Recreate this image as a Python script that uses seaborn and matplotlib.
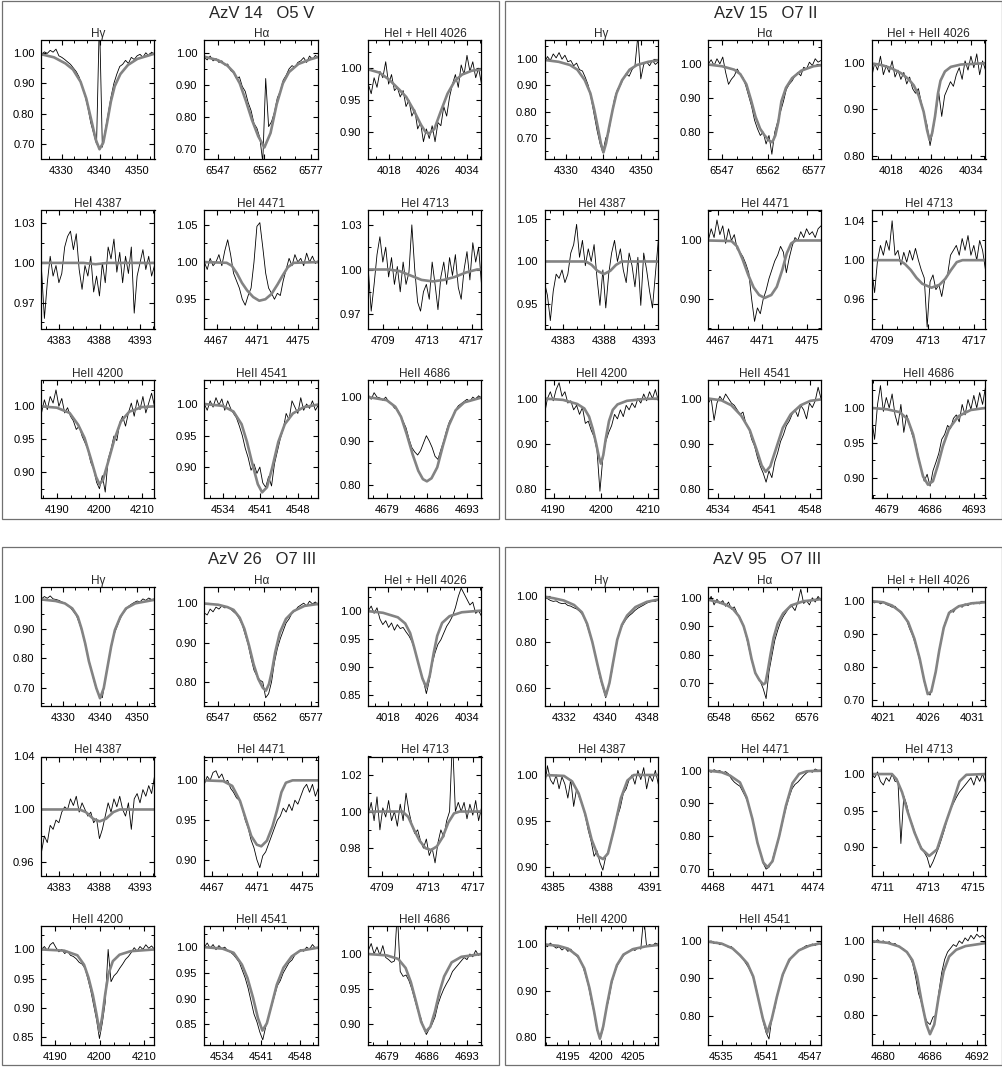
import numpy as np
import matplotlib
matplotlib.use("Agg")
import matplotlib.pyplot as plt
from matplotlib.ticker import AutoMinorLocator, FixedLocator, FormatStrFormatter
from matplotlib.patches import Rectangle
import seaborn as sns

# line titles (same order in every star block)
LINE_TITLES = ["Hγ", "Hα", "HeI + HeII 4026", "HeI 4387", "HeI 4471", "HeI 4713",
               "HeII 4200", "HeII 4541", "HeII 4686"]
STAR_TITLES = ["AzV 14   O5 V", "AzV 15   O7 II", "AzV 26   O7 III", "AzV 95   O7 III"]

XTICKS_STD = [[4330, 4340, 4350], [6547, 6562, 6577], [4018, 4026, 4034],
              [4383, 4388, 4393], [4467, 4471, 4475], [4709, 4713, 4717],
              [4190, 4200, 4210], [4534, 4541, 4548], [4679, 4686, 4693]]
XTICKS_AZV95 = [[4332, 4340, 4348], [6548, 6562, 6576], [4021, 4026, 4031],
                [4385, 4388, 4391], [4468, 4471, 4474], [4711, 4713, 4715],
                [4195, 4200, 4205], [4535, 4541, 4547], [4680, 4686, 4692]]

# ---------------- AzV 14 ----------------
AZV14_XLIM = [(4324.7, 4354.5), (6542.5, 6579.5), (4013.7, 4037), (4380.8, 4394.8),
              (4465.8, 4477.0), (4707.7, 4717.9), (4186.4, 4212.9), (4530.6, 4551.7),
              (4675.8, 4695.5)]
AZV14_YLIM = [(0.651, 1.042), (0.669, 1.04), (0.858, 1.044), (0.95, 1.04), (0.91, 1.07),
              (0.96, 1.04), (0.861, 1.04), (0.851, 1.038), (0.77, 1.039)]
AZV14_YTICKS = [[0.7, 0.8, 0.9, 1.0], [0.7, 0.8, 0.9, 1.0], [0.9, 0.95, 1.0], [0.97, 1.0, 1.03],
                [0.95, 1.0, 1.05], [0.97, 1.0, 1.03], [0.9, 0.95, 1.0], [0.85, 0.9, 0.95, 1.0],
                [0.8, 0.9, 1.0]]

AZV14_HG_OBS = [0.995, 1.003, 0.998, 1.008, 1.002, 1.012, 0.99, 0.985, 0.978, 0.97,
                0.962, 0.95, 0.938, 0.92, 0.89, 0.86, 0.82, 0.77, 0.735, 0.70,
                1.12, 0.69, 0.745, 0.80, 0.855, 0.90, 0.93, 0.955, 0.962, 0.975,
                0.965, 0.985, 0.978, 0.99, 0.995, 0.985, 1.0, 0.99, 1.002, 0.995]
AZV14_HG_MOD = [(4324.7, 0.995), (4328, 0.985), (4331, 0.965), (4333, 0.945), (4335, 0.905),
                (4336.5, 0.85), (4338, 0.77), (4339, 0.715), (4340, 0.683), (4341, 0.705),
                (4342, 0.77), (4343, 0.84), (4344, 0.89), (4345.5, 0.93), (4347.5, 0.96),
                (4350, 0.98), (4354.5, 0.997)]
AZV14_HA_OBS = [0.985, 0.978, 0.99, 0.975, 0.982, 0.97, 0.975, 0.962, 0.965, 0.945,
                0.938, 0.92, 0.925, 0.895, 0.88, 0.845, 0.82, 0.78, 0.765, 0.735,
                0.66, 0.92, 0.77, 0.785, 0.815, 0.86, 0.88, 0.915, 0.93, 0.95,
                0.96, 0.955, 0.97, 0.975, 0.985, 0.97, 0.99, 0.98, 0.992, 0.985]
AZV14_HA_MOD = [(6542.5, 0.988), (6547, 0.977), (6550, 0.96), (6552, 0.94), (6554, 0.905),
                (6556, 0.85), (6558, 0.79), (6560, 0.74), (6562, 0.705), (6564, 0.75),
                (6566, 0.84), (6568, 0.905), (6570, 0.94), (6573, 0.965), (6577, 0.98),
                (6579.5, 0.987)]
AZV14_4026_OBS = [0.975, 0.96, 0.985, 0.97, 0.995, 0.985, 1.01, 0.975, 0.99, 0.965,
                  0.97, 0.955, 0.965, 0.94, 0.95, 0.925, 0.935, 0.905, 0.915, 0.885,
                  0.905, 0.89, 0.91, 0.885, 0.915, 0.91, 0.94, 0.925, 0.955, 0.975,
                  0.99, 0.97, 1.005, 0.99, 1.02, 0.995, 1.01, 0.985, 1.0, 0.975]
AZV14_4026_MOD = [(4013.7, 0.998), (4016, 0.993), (4018, 0.982), (4020, 0.967), (4021.5, 0.955),
                  (4023, 0.935), (4024.5, 0.912), (4025.5, 0.9), (4026.3, 0.898), (4027.3, 0.905),
                  (4028.5, 0.93), (4030, 0.96), (4031.5, 0.98), (4033, 0.99), (4035, 0.996),
                  (4037, 0.998)]
AZV14_4387_OBS = [0.995, 0.958, 0.985, 1.005, 0.99, 0.998, 0.985, 0.992, 1.012, 1.02,
                  1.024, 1.01, 1.022, 0.995, 0.98, 0.998, 0.99, 1.005, 0.978, 0.99,
                  0.975, 1.0, 0.985, 1.012, 1.003, 1.018, 0.993, 1.008, 0.985, 1.005,
                  0.992, 1.012, 0.962, 0.99, 1.0, 1.01, 0.995, 1.005, 0.99, 0.998]
AZV14_4387_MOD = [(4380.8, 1.0), (4386, 1.0), (4387.5, 0.999), (4389, 1.0), (4394.8, 1.0)]
AZV14_4471_OBS = [1.0, 0.99, 1.005, 0.995, 1.0, 1.01, 0.995, 1.015, 1.03, 1.01,
                  0.985, 0.975, 0.965, 0.95, 0.942, 0.955, 0.965, 1.0, 1.048, 1.053,
                  1.02, 0.985, 0.965, 0.958, 0.95, 0.958, 0.955, 0.975, 0.99, 1.005,
                  0.995, 1.01, 1.0, 1.005, 0.995, 1.012, 1.0, 1.008, 0.998, 1.002]
AZV14_4471_MOD = [(4465.8, 1.0), (4468, 0.999), (4468.5, 0.995), (4469, 0.985), (4469.5, 0.972),
                  (4470, 0.962), (4470.6, 0.953), (4471.2, 0.948), (4471.8, 0.95), (4472.4, 0.957),
                  (4473, 0.97), (4473.5, 0.982), (4474, 0.993), (4474.6, 0.999), (4477, 1.0)]
AZV14_4713_OBS = [1.0, 0.972, 0.99, 1.01, 1.022, 1.005, 1.015, 0.995, 1.008, 0.99,
                  1.002, 0.985, 1.005, 0.99, 0.998, 1.03, 1.0, 0.978, 0.972, 0.985,
                  0.99, 0.98, 1.005, 0.99, 0.973, 0.995, 1.005, 0.99, 1.008, 0.996,
                  1.01, 0.988, 0.98, 1.0, 1.012, 0.993, 1.018, 1.005, 1.015, 0.99]
AZV14_4713_MOD = [(4707.7, 1.0), (4709.5, 1.0), (4710.5, 0.999), (4711.5, 0.996), (4712.5, 0.993),
                  (4713.5, 0.992), (4714.5, 0.993), (4715.5, 0.995), (4716.5, 0.998),
                  (4717.5, 1.0), (4717.9, 1.0)]
AZV14_4200_OBS = [0.99, 1.01, 0.995, 1.015, 1.005, 1.025, 1.0, 1.012, 0.99, 0.998,
                  0.985, 0.978, 0.965, 0.97, 0.955, 0.945, 0.935, 0.915, 0.905, 0.885,
                  0.875, 0.895, 0.87, 0.92, 0.935, 0.955, 0.948, 0.975, 0.985, 0.97,
                  0.99, 1.005, 0.985, 1.01, 0.995, 1.015, 0.99, 1.005, 1.02, 1.0]
AZV14_4200_MOD = [(4186.4, 1.0), (4190, 0.998), (4193, 0.99), (4195, 0.972), (4196.5, 0.952),
                  (4198, 0.92), (4199.2, 0.893), (4200, 0.882), (4200.8, 0.888), (4202, 0.915),
                  (4203.5, 0.95), (4205, 0.977), (4207, 0.992), (4210, 0.999), (4212.9, 1.0)]
AZV14_4541_OBS = [1.0, 0.99, 1.005, 0.995, 1.01, 0.998, 1.008, 0.99, 1.005, 0.993,
                  0.985, 0.978, 0.965, 0.95, 0.93, 0.915, 0.895, 0.905, 0.89, 0.9,
                  0.875, 0.868, 0.885, 0.87, 0.905, 0.925, 0.945, 0.96, 0.985, 0.975,
                  1.005, 0.995, 0.985, 1.01, 0.99, 1.0, 0.993, 1.005, 0.99, 0.998]
AZV14_4541_MOD = [(4530.6, 1.0), (4534, 0.997), (4536, 0.988), (4537.5, 0.968), (4538.5, 0.94),
                  (4539.5, 0.905), (4540.5, 0.873), (4541.3, 0.86), (4542.2, 0.868), (4543.2, 0.9),
                  (4544.3, 0.94), (4545.5, 0.968), (4547, 0.985), (4549, 0.995), (4551.7, 0.999)]
AZV14_4686_OBS = [1.005, 0.995, 1.01, 1.0, 0.998, 0.993, 1.0, 0.99, 0.985, 0.975,
                  0.972, 0.96, 0.945, 0.93, 0.905, 0.885, 0.875, 0.868, 0.878, 0.895,
                  0.912, 0.9, 0.885, 0.865, 0.858, 0.88, 0.9, 0.925, 0.945, 0.955,
                  0.97, 0.98, 0.985, 0.99, 0.995, 0.99, 1.0, 0.995, 1.003, 0.998]
AZV14_4686_MOD = [(4675.8, 1.0), (4679, 0.993), (4680.5, 0.978), (4681.5, 0.955), (4682.5, 0.915),
                  (4683.5, 0.87), (4684.5, 0.832), (4685.3, 0.813), (4686, 0.808), (4686.8, 0.815),
                  (4687.8, 0.84), (4688.8, 0.89), (4689.8, 0.935), (4691, 0.97), (4692.5, 0.988),
                  (4695.5, 0.999)]

# ---------------- AzV 15 ----------------
AZV15_XLIM = [(4324.2, 4354.7), (6542.5, 6579.5), (4014, 4037), (4380.7, 4394.7),
              (4466.1, 4476.3), (4708.1, 4718.0), (4188.1, 4212.1), (4532.5, 4549.6),
              (4676.5, 4694.9)]
AZV15_YLIM = [(0.62, 1.073), (0.721, 1.07), (0.793, 1.05), (0.92, 1.061), (0.849, 1.052),
              (0.93, 1.051), (0.78, 1.041), (0.78, 1.041), (0.871, 1.04)]
AZV15_YTICKS = [[0.7, 0.8, 0.9, 1.0], [0.8, 0.9, 1.0], [0.8, 0.9, 1.0], [0.95, 1.0, 1.05],
                [0.9, 1.0], [0.96, 1.0, 1.04], [0.8, 0.9, 1.0], [0.8, 0.9, 1.0],
                [0.9, 0.95, 1.0]]

AZV15_HG_OBS = [0.985, 1.01, 0.995, 1.02, 1.005, 1.025, 1.0, 1.015, 0.99, 0.995,
                0.975, 0.985, 0.96, 0.955, 0.93, 0.9, 0.85, 0.79, 0.73, 0.68,
                0.645, 0.7, 0.72, 0.79, 0.85, 0.885, 0.9, 0.925, 0.945, 0.935,
                0.96, 0.975, 1.09, 0.925, 0.98, 0.99, 0.975, 0.995, 0.98, 0.99]
AZV15_HG_MOD = [(4324.2, 0.997), (4328, 0.99), (4331, 0.978), (4333, 0.96), (4335, 0.92),
                (4336.5, 0.87), (4337.5, 0.81), (4338.5, 0.74), (4339.3, 0.68), (4340, 0.645),
                (4340.7, 0.68), (4341.5, 0.74), (4342.5, 0.81), (4343.5, 0.87), (4345, 0.92),
                (4347, 0.96), (4349, 0.978), (4352, 0.99), (4354.7, 0.996)]
AZV15_HA_OBS = [1.0, 1.012, 0.995, 1.015, 1.0, 1.02, 0.975, 0.94, 0.955, 0.965,
                0.985, 0.97, 0.96, 0.935, 0.905, 0.875, 0.835, 0.81, 0.79, 0.8,
                0.765, 0.79, 0.735, 0.8, 0.83, 0.86, 0.89, 0.925, 0.94, 0.95,
                0.965, 0.975, 0.965, 0.99, 0.985, 1.005, 0.995, 1.015, 1.005, 1.01]
AZV15_HA_MOD = [(6542.5, 0.998), (6547, 0.993), (6551, 0.983), (6553, 0.97), (6555, 0.94),
                (6556.5, 0.895), (6558, 0.845), (6559.5, 0.81), (6561, 0.79), (6562.5, 0.775),
                (6563.5, 0.77), (6564.5, 0.79), (6565.5, 0.83), (6566.5, 0.89), (6568, 0.93),
                (6570, 0.958), (6573, 0.98), (6577, 0.993), (6579.5, 0.996)]
AZV15_4026_OBS = [0.97, 1.0, 0.985, 1.015, 0.975, 0.995, 0.98, 1.005, 0.97, 0.985,
                  0.965, 0.98, 0.955, 0.97, 0.945, 0.935, 0.945, 0.915, 0.89, 0.865,
                  0.822, 0.855, 0.895, 0.935, 0.885, 0.93, 0.945, 0.96, 0.95, 0.975,
                  0.99, 0.965, 1.005, 0.985, 1.015, 0.99, 1.02, 0.975, 1.005, 0.985]
AZV15_4026_MOD = [(4014, 0.999), (4016, 0.996), (4018, 0.989), (4020, 0.978), (4021.5, 0.965),
                  (4022.5, 0.952), (4023.5, 0.93), (4024.5, 0.895), (4025.2, 0.855),
                  (4025.7, 0.834), (4026.2, 0.848), (4026.8, 0.885), (4027.4, 0.935),
                  (4027.9, 0.962), (4028.8, 0.982), (4030, 0.992), (4032, 0.997), (4037, 1.0)]
AZV15_4387_OBS = [0.975, 0.96, 0.93, 0.965, 0.985, 0.98, 0.99, 0.975, 0.985, 1.01,
                  1.02, 1.044, 1.005, 1.025, 0.995, 1.015, 1.0, 1.02, 0.98, 0.948,
                  0.99, 0.945, 0.985, 1.01, 1.025, 1.0, 1.015, 0.99, 0.975, 1.01,
                  0.995, 0.97, 1.005, 0.948, 1.01, 0.99, 0.965, 0.945, 0.985, 1.025]
AZV15_4387_MOD = [(4380.7, 1.0), (4385.8, 1.0), (4386.5, 0.996), (4387.2, 0.989), (4388, 0.985),
                  (4388.8, 0.989), (4389.5, 0.996), (4390.2, 1.0), (4394.7, 1.0)]
AZV15_4471_OBS = [1.0, 1.02, 1.005, 1.035, 1.01, 1.025, 0.995, 1.02, 1.0, 1.01,
                  0.985, 0.98, 0.972, 0.96, 0.945, 0.9, 0.862, 0.885, 0.875, 0.9,
                  0.915, 0.935, 0.95, 0.965, 0.975, 0.99, 0.98, 0.945, 0.97, 0.99,
                  1.005, 1.0, 1.015, 1.005, 1.02, 1.01, 1.015, 1.005, 1.02, 1.025]
AZV15_4471_MOD = [(4466.1, 1.0), (4468.2, 0.999), (4468.7, 0.99), (4469.2, 0.968), (4469.7, 0.942),
                  (4470.2, 0.92), (4470.7, 0.907), (4471.2, 0.902), (4471.8, 0.907), (4472.3, 0.921),
                  (4472.8, 0.95), (4473.2, 0.978), (4473.6, 0.995), (4474, 1.0), (4476.3, 1.0)]
AZV15_4713_OBS = [0.99, 0.967, 1.0, 1.015, 1.005, 1.02, 1.01, 1.04, 1.005, 1.01,
                  0.995, 1.008, 0.998, 1.01, 1.0, 1.012, 1.0, 0.99, 0.982, 0.932,
                  0.978, 0.985, 0.97, 0.975, 0.963, 0.98, 0.985, 1.005, 1.01, 1.015,
                  1.005, 1.022, 1.01, 1.025, 1.005, 1.015, 1.0, 1.02, 1.01, 0.99]
AZV15_4713_MOD = [(4708.1, 1.0), (4710.5, 1.0), (4711, 0.996), (4711.5, 0.99), (4712, 0.982),
                  (4712.5, 0.976), (4713.3, 0.972), (4714, 0.975), (4714.5, 0.981), (4715, 0.99),
                  (4715.5, 0.998), (4716, 1.0), (4718, 1.0)]
AZV15_4200_OBS = [0.965, 1.0, 1.015, 0.995, 1.02, 1.035, 1.005, 1.015, 0.99, 0.995,
                  0.975, 0.985, 0.965, 0.98, 0.945, 0.95, 0.93, 0.915, 0.885, 0.795,
                  0.87, 0.905, 0.925, 0.94, 0.965, 0.955, 0.975, 0.96, 0.985, 0.975,
                  0.99, 0.98, 1.0, 0.99, 1.01, 0.995, 1.015, 1.0, 1.02, 0.995]
AZV15_4200_MOD = [(4188.1, 1.0), (4192, 0.997), (4195, 0.988), (4196.5, 0.978), (4197.5, 0.96),
                  (4198.3, 0.932), (4199, 0.9), (4199.6, 0.87), (4200, 0.856), (4200.5, 0.875),
                  (4201, 0.91), (4201.7, 0.95), (4202.5, 0.975), (4203.5, 0.987), (4205.5, 0.995),
                  (4209, 0.999), (4212.1, 1.0)]
AZV15_4541_OBS = [0.99, 1.0, 0.952, 0.99, 1.005, 0.995, 1.01, 1.0, 0.99, 0.985,
                  0.975, 0.965, 0.97, 0.945, 0.935, 0.91, 0.895, 0.87, 0.85, 0.835,
                  0.815, 0.84, 0.825, 0.86, 0.88, 0.905, 0.92, 0.94, 0.95, 0.965,
                  0.975, 0.96, 0.985, 0.975, 0.955, 0.99, 0.98, 0.995, 1.025, 1.0]
AZV15_4541_MOD = [(4532.5, 1.0), (4534.5, 0.996), (4536, 0.985), (4537.5, 0.962), (4538.8, 0.93),
                  (4539.8, 0.888), (4540.6, 0.852), (4541.2, 0.838), (4541.9, 0.85), (4542.8, 0.89),
                  (4543.8, 0.935), (4545, 0.965), (4546.5, 0.985), (4548, 0.995), (4549.6, 0.998)]
AZV15_4686_OBS = [0.985, 0.955, 1.005, 1.032, 0.995, 1.015, 1.0, 1.02, 0.99, 0.975,
                  1.005, 0.965, 0.99, 0.975, 0.96, 0.95, 0.93, 0.912, 0.895, 0.905,
                  0.888, 0.91, 0.922, 0.935, 0.955, 0.962, 0.975, 0.97, 0.985, 0.99,
                  0.98, 1.005, 0.99, 1.012, 0.998, 1.018, 1.0, 1.022, 1.005, 1.03]
AZV15_4686_MOD = [(4676.5, 1.0), (4679, 0.998), (4681, 0.994), (4682.3, 0.984), (4683.2, 0.962),
                  (4684, 0.93), (4684.8, 0.902), (4685.6, 0.89), (4686.4, 0.895), (4687.2, 0.918),
                  (4688, 0.945), (4689, 0.97), (4690.5, 0.988), (4692.5, 0.997), (4694.9, 1.0)]

# ---------------- AzV 26 ----------------
AZV26_XLIM = [(4324.2, 4354.7), (6542.5, 6579.5), (4014, 4037), (4380.8, 4394.8),
              (4466.3, 4476.5), (4707.8, 4717.7), (4186.9, 4212.4), (4530.7, 4551.3),
              (4675.8, 4695.5)]
AZV26_YLIM = [(0.64, 1.04), (0.739, 1.041), (0.83, 1.042), (0.95, 1.04), (0.88, 1.03),
              (0.965, 1.03), (0.837, 1.04), (0.81, 1.041), (0.87, 1.04)]
AZV26_YTICKS = [[0.7, 0.8, 0.9, 1.0], [0.8, 0.9, 1.0], [0.85, 0.9, 0.95, 1.0], [0.96, 1.0, 1.04],
                [0.9, 0.95, 1.0], [0.98, 1.0, 1.02], [0.85, 0.9, 0.95, 1.0],
                [0.85, 0.9, 0.95, 1.0], [0.9, 0.95, 1.0]]

AZV26_HG_OBS = [1.0, 1.008, 1.002, 1.01, 1.0, 0.998, 0.995, 0.99, 0.985, 0.978,
                0.97, 0.958, 0.945, 0.92, 0.89, 0.85, 0.805, 0.77, 0.728, 0.695,
                0.675, 0.668, 0.73, 0.785, 0.835, 0.88, 0.905, 0.93, 0.95, 0.962,
                0.975, 0.982, 0.988, 0.993, 0.99, 1.0, 0.995, 1.003, 0.998, 1.0]
AZV26_HG_MOD = [(4324.2, 0.998), (4328, 0.993), (4330.5, 0.985), (4332.5, 0.968), (4334, 0.94),
                (4335, 0.9), (4336, 0.85), (4337, 0.79), (4338, 0.745), (4339, 0.7),
                (4340, 0.666), (4341, 0.7), (4342, 0.77), (4343, 0.84), (4344, 0.895),
                (4345.5, 0.94), (4347, 0.968), (4349.5, 0.985), (4354.7, 0.997)]
AZV26_HA_OBS = [0.975, 0.97, 0.985, 0.978, 0.99, 0.985, 0.993, 0.988, 0.99, 0.985,
                0.978, 0.972, 0.96, 0.945, 0.92, 0.895, 0.86, 0.83, 0.815, 0.805,
                0.8, 0.76, 0.77, 0.8, 0.85, 0.885, 0.91, 0.93, 0.95, 0.96,
                0.975, 0.98, 0.99, 0.995, 1.0, 0.993, 1.005, 0.998, 1.003, 0.995]
AZV26_HA_MOD = [(6542.5, 0.999), (6547, 0.996), (6550, 0.99), (6552, 0.983), (6554, 0.963),
                (6555.5, 0.935), (6557, 0.893), (6558.5, 0.845), (6560, 0.808), (6561.5, 0.785),
                (6562.5, 0.778), (6563.5, 0.795), (6564.5, 0.83), (6565.5, 0.875), (6567, 0.925),
                (6569, 0.96), (6571.5, 0.98), (6575, 0.993), (6579.5, 0.998)]
AZV26_4026_OBS = [1.0, 1.008, 0.995, 1.005, 0.985, 0.975, 0.982, 0.97, 0.978, 0.965,
                  0.975, 0.968, 0.97, 0.962, 0.955, 0.945, 0.93, 0.91, 0.89, 0.875,
                  0.852, 0.875, 0.905, 0.925, 0.94, 0.948, 0.96, 0.972, 0.98, 0.99,
                  1.005, 1.025, 1.04, 1.03, 1.02, 1.01, 1.015, 0.995, 1.0, 0.99]
AZV26_4026_MOD = [(4014, 0.999), (4017, 0.996), (4020, 0.988), (4021.5, 0.977), (4022.5, 0.96),
                  (4023.3, 0.935), (4024.2, 0.905), (4025, 0.879), (4025.8, 0.863), (4026.5, 0.885),
                  (4027.3, 0.925), (4028, 0.955), (4029, 0.978), (4030.5, 0.99), (4033, 0.997),
                  (4037, 1.0)]
AZV26_4387_OBS = [0.968, 0.98, 0.975, 0.988, 0.985, 0.992, 0.99, 0.998, 1.002, 1.0,
                  1.008, 1.003, 1.01, 0.998, 1.005, 1.0, 0.995, 0.998, 0.99, 0.993,
                  0.978, 0.985, 0.995, 1.005, 0.998, 1.008, 1.002, 1.01, 1.0, 0.995,
                  1.005, 0.985, 1.008, 1.012, 1.005, 1.015, 1.01, 1.018, 1.012, 1.025]
AZV26_4387_MOD = [(4380.8, 1.0), (4385.5, 1.0), (4386.3, 0.998), (4387.2, 0.993), (4388, 0.991),
                  (4388.8, 0.993), (4389.7, 0.998), (4390.5, 1.0), (4394.8, 1.0)]
AZV26_4471_OBS = [0.995, 1.005, 1.0, 1.01, 1.012, 1.003, 1.008, 0.998, 1.0, 0.99,
                  0.985, 0.978, 0.975, 0.965, 0.95, 0.94, 0.925, 0.915, 0.9, 0.89,
                  0.905, 0.91, 0.92, 0.93, 0.94, 0.95, 0.955, 0.965, 0.96, 0.97,
                  0.962, 0.975, 0.97, 0.98, 0.99, 0.995, 0.985, 0.995, 0.98, 0.99]
AZV26_4471_MOD = [(4466.3, 1.0), (4468, 0.999), (4468.8, 0.993), (4469.5, 0.974), (4470, 0.952),
                  (4470.5, 0.93), (4471, 0.919), (4471.4, 0.917), (4471.9, 0.924), (4472.4, 0.942),
                  (4472.8, 0.962), (4473.2, 0.985), (4473.6, 0.997), (4474.2, 1.0), (4476.5, 1.0)]
AZV26_4713_OBS = [0.998, 1.005, 0.995, 1.008, 0.99, 1.002, 0.997, 1.006, 0.995, 1.0,
                  0.992, 1.004, 0.995, 1.01, 1.0, 0.993, 0.988, 0.99, 0.984, 0.98,
                  0.985, 0.976, 0.98, 0.972, 0.983, 0.99, 0.986, 0.995, 1.0, 1.04,
                  1.0, 1.005, 1.0, 1.005, 0.996, 1.004, 0.998, 1.006, 0.995, 1.002]
AZV26_4713_MOD = [(4707.8, 1.0), (4710.8, 1.0), (4711.3, 0.997), (4711.8, 0.99), (4712.3, 0.984),
                  (4712.8, 0.98), (4713.3, 0.979), (4713.8, 0.981), (4714.3, 0.986), (4714.8, 0.994),
                  (4715.3, 0.999), (4715.8, 1.0), (4717.7, 1.0)]
AZV26_4200_OBS = [1.0, 1.005, 0.998, 1.008, 1.012, 1.003, 0.996, 1.0, 0.993, 0.997,
                  0.99, 0.988, 0.984, 0.978, 0.975, 0.968, 0.95, 0.93, 0.905, 0.88,
                  0.848, 0.875, 0.91, 1.0, 0.945, 0.955, 0.96, 0.968, 0.975, 0.983,
                  0.988, 0.995, 1.003, 0.997, 1.005, 1.0, 1.008, 1.002, 1.006, 1.0]
AZV26_4200_MOD = [(4186.9, 1.0), (4192, 0.998), (4195, 0.99), (4196.5, 0.974), (4197.5, 0.952),
                  (4198.5, 0.922), (4199.3, 0.89), (4200, 0.86), (4200.6, 0.885), (4201.3, 0.925),
                  (4202, 0.958), (4203, 0.98), (4204.5, 0.991), (4207, 0.997), (4212.4, 1.0)]
AZV26_4541_OBS = [1.0, 1.008, 0.998, 1.005, 0.995, 1.003, 0.997, 1.0, 0.993, 0.99,
                  0.985, 0.978, 0.97, 0.955, 0.94, 0.92, 0.895, 0.87, 0.855, 0.835,
                  0.82, 0.845, 0.865, 0.885, 0.905, 0.925, 0.935, 0.95, 0.96, 0.97,
                  0.975, 0.985, 0.99, 0.995, 0.992, 1.0, 0.996, 1.005, 0.998, 1.0]
AZV26_4541_MOD = [(4530.7, 1.0), (4534, 0.997), (4536, 0.989), (4537.5, 0.966), (4538.5, 0.94),
                  (4539.5, 0.902), (4540.4, 0.862), (4541.2, 0.838), (4542, 0.852), (4542.8, 0.885),
                  (4543.8, 0.927), (4545, 0.96), (4546.5, 0.982), (4548, 0.993), (4551.3, 0.999)]
AZV26_4686_OBS = [1.005, 1.015, 1.0, 1.01, 0.998, 1.012, 0.995, 0.992, 0.988, 0.99,
                  1.06, 0.975, 0.968, 0.97, 0.962, 0.95, 0.935, 0.92, 0.91, 0.895,
                  0.885, 0.893, 0.9, 0.91, 0.928, 0.94, 0.95, 0.958, 0.965, 0.975,
                  0.98, 0.985, 0.99, 0.995, 0.992, 1.0, 0.996, 1.005, 0.998, 1.002]
AZV26_4686_MOD = [(4675.8, 1.0), (4679, 0.998), (4681, 0.993), (4682.3, 0.98), (4683.2, 0.96),
                  (4684.1, 0.932), (4685, 0.903), (4685.8, 0.889), (4686.6, 0.896), (4687.4, 0.918),
                  (4688.2, 0.946), (4689, 0.968), (4690.3, 0.988), (4692, 0.996), (4695.5, 1.0)]

# ---------------- AzV 95 ----------------
AZV95_XLIM = [(4328.3, 4350.2), (6544.8, 6580.5), (4019.7, 4032.5), (4384.5, 4391.5),
              (4467.7, 4474.46), (4710.5, 4715.55), (4191.4, 4208.85), (4533.2, 4548.5),
              (4678.5, 4693.05)]
AZV95_YLIM = [(0.519, 1.041), (0.619, 1.038), (0.682, 1.041), (0.891, 1.02), (0.68, 1.043),
              (0.861, 1.024), (0.782, 1.04), (0.722, 1.04), (0.72, 1.04)]
AZV95_YTICKS = [[0.6, 0.8, 1.0], [0.7, 0.8, 0.9, 1.0], [0.7, 0.8, 0.9, 1.0], [0.9, 0.95, 1.0],
                [0.7, 0.8, 0.9, 1.0], [0.9, 0.95, 1.0], [0.8, 0.9, 1.0], [0.8, 0.9, 1.0],
                [0.8, 0.9, 1.0]]

AZV95_HG_OBS = [0.995, 0.99, 0.982, 0.978, 0.98, 0.972, 0.968, 0.97, 0.96, 0.957,
                0.95, 0.945, 0.935, 0.92, 0.895, 0.855, 0.815, 0.77, 0.705, 0.645,
                0.6, 0.555, 0.605, 0.665, 0.745, 0.81, 0.855, 0.88, 0.9, 0.915,
                0.925, 0.938, 0.948, 0.955, 0.962, 0.97, 0.975, 0.98, 0.978, 0.985]
AZV95_HG_MOD = [(4328.3, 0.998), (4330, 0.992), (4332, 0.982), (4334, 0.962), (4335.5, 0.93),
                (4336.5, 0.88), (4337.5, 0.8), (4338.5, 0.7), (4339.3, 0.625), (4340.1, 0.564),
                (4340.8, 0.62), (4341.5, 0.71), (4342.3, 0.81), (4343.2, 0.875), (4344.2, 0.916),
                (4345.8, 0.953), (4348, 0.976), (4350.2, 0.986)]
AZV95_HA_OBS = [0.99, 1.005, 0.975, 0.995, 0.98, 0.99, 0.97, 0.985, 0.96, 0.968,
                0.945, 0.93, 0.905, 0.87, 0.825, 0.78, 0.745, 0.72, 0.705, 0.68,
                0.645, 0.74, 0.795, 0.85, 0.885, 0.915, 0.935, 0.95, 0.965, 0.97,
                0.955, 0.985, 1.03, 0.98, 0.99, 0.975, 1.0, 0.985, 1.005, 0.99]
AZV95_HA_MOD = [(6544.8, 0.993), (6548, 0.985), (6550.5, 0.975), (6552.5, 0.962), (6554.5, 0.935),
                (6556, 0.9), (6557.3, 0.85), (6558.5, 0.785), (6559.7, 0.735), (6561, 0.71),
                (6562.2, 0.695), (6562.9, 0.7), (6563.6, 0.74), (6564.5, 0.8), (6565.5, 0.86),
                (6566.8, 0.91), (6568.5, 0.945), (6571, 0.973), (6575, 0.988), (6580.5, 0.995)]
AZV95_4026_OBS = [1.0, 0.993, 0.998, 0.99, 0.995, 0.988, 0.985, 0.98, 0.983, 0.972,
                  0.962, 0.955, 0.94, 0.915, 0.895, 0.868, 0.835, 0.8, 0.755, 0.722,
                  0.715, 0.748, 0.79, 0.845, 0.885, 0.93, 0.95, 0.97, 0.965, 0.978,
                  0.985, 0.98, 0.99, 0.985, 0.993, 0.99, 0.995, 0.99, 0.996, 0.995]
AZV95_4026_MOD = [(4019.7, 0.998), (4021, 0.995), (4022, 0.985), (4023, 0.965), (4023.8, 0.935),
                  (4024.5, 0.885), (4025.1, 0.825), (4025.6, 0.76), (4026, 0.718), (4026.4, 0.725),
                  (4026.9, 0.785), (4027.3, 0.85), (4027.8, 0.918), (4028.4, 0.963), (4029.5, 0.983),
                  (4031, 0.992), (4032.5, 0.995)]
AZV95_4387_OBS = [0.985, 1.01, 0.995, 0.99, 1.0, 0.985, 0.998, 0.99, 0.975, 0.995,
                  0.966, 0.985, 0.975, 0.968, 0.955, 0.94, 0.928, 0.912, 0.918, 0.905,
                  0.897, 0.912, 0.918, 0.93, 0.945, 0.955, 0.965, 0.98, 0.985, 0.995,
                  1.0, 0.99, 1.005, 0.995, 1.008, 0.985, 1.0, 0.993, 1.005, 0.99]
AZV95_4387_MOD = [(4384.5, 1.0), (4385.7, 0.999), (4386.2, 0.993), (4386.6, 0.98), (4387.0, 0.958),
                  (4387.4, 0.93), (4387.8, 0.912), (4388.1, 0.909), (4388.4, 0.915), (4388.8, 0.943),
                  (4389.2, 0.975), (4389.6, 0.994), (4390, 1.0), (4391.5, 1.0)]
AZV95_4471_OBS = [1.0, 0.995, 1.003, 0.998, 1.0, 0.993, 0.997, 0.99, 0.975, 0.965,
                  0.958, 0.952, 0.935, 0.918, 0.895, 0.86, 0.825, 0.782, 0.75, 0.718,
                  0.7, 0.706, 0.722, 0.755, 0.78, 0.815, 0.855, 0.89, 0.92, 0.945,
                  0.958, 0.965, 0.975, 0.985, 0.993, 1.0, 0.995, 1.005, 1.0, 0.998]
AZV95_4471_MOD = [(4467.7, 1.0), (4468.5, 0.995), (4469, 0.985), (4469.6, 0.964), (4470.0, 0.918),
                  (4470.35, 0.852), (4470.65, 0.78), (4471.0, 0.72), (4471.25, 0.706),
                  (4471.55, 0.724), (4471.95, 0.8), (4472.35, 0.892), (4472.75, 0.962),
                  (4473.15, 0.99), (4473.6, 0.998), (4474.46, 1.0)]
AZV95_4713_OBS = [1.0, 0.995, 1.003, 0.99, 0.985, 0.995, 0.99, 1.0, 0.99, 0.99,
                  0.905, 0.97, 0.958, 0.94, 0.93, 0.918, 0.905, 0.9, 0.893, 0.886,
                  0.872, 0.88, 0.89, 0.9, 0.912, 0.925, 0.94, 0.952, 0.96, 0.968,
                  0.975, 0.98, 0.985, 0.99, 0.995, 0.985, 0.998, 0.99, 1.0, 0.988]
AZV95_4713_MOD = [(4710.5, 1.0), (4711.4, 1.0), (4711.6, 0.993), (4711.85, 0.975), (4712.1, 0.948),
                  (4712.4, 0.92), (4712.7, 0.898), (4713.05, 0.888), (4713.4, 0.897),
                  (4713.75, 0.93), (4714.1, 0.961), (4714.4, 0.99), (4714.7, 0.999), (4715.55, 1.0)]
AZV95_4200_OBS = [1.0, 0.995, 1.003, 0.997, 0.992, 0.995, 0.988, 0.993, 0.985, 0.99,
                  0.98, 0.975, 0.968, 0.955, 0.935, 0.912, 0.88, 0.852, 0.815, 0.795,
                  0.815, 0.855, 0.88, 0.915, 0.938, 0.955, 0.965, 0.975, 0.982, 0.985,
                  0.99, 0.987, 0.993, 0.99, 1.06, 0.995, 1.0, 0.997, 1.003, 1.0]
AZV95_4200_MOD = [(4191.4, 1.0), (4193.5, 0.997), (4195, 0.991), (4196.5, 0.975), (4197.5, 0.948),
                  (4198.3, 0.905), (4199, 0.855), (4199.5, 0.815), (4199.9, 0.796), (4200.4, 0.822),
                  (4201, 0.87), (4201.7, 0.92), (4202.5, 0.955), (4203.5, 0.978), (4205, 0.99),
                  (4207, 0.996), (4208.85, 0.999)]
AZV95_4541_OBS = [0.998, 1.0, 0.993, 0.997, 0.99, 0.993, 0.988, 0.983, 0.985, 0.975,
                  0.968, 0.96, 0.952, 0.94, 0.928, 0.912, 0.893, 0.86, 0.82, 0.785,
                  0.755, 0.738, 0.795, 0.82, 0.86, 0.888, 0.912, 0.932, 0.945, 0.958,
                  0.965, 0.972, 0.978, 0.983, 0.988, 0.985, 0.992, 0.988, 0.995, 0.99]
AZV95_4541_MOD = [(4533.2, 0.998), (4535, 0.993), (4536.5, 0.98), (4537.5, 0.962), (4538.5, 0.94),
                  (4539.3, 0.905), (4540, 0.845), (4540.6, 0.793), (4541.2, 0.755), (4541.8, 0.79),
                  (4542.5, 0.85), (4543.3, 0.91), (4544.2, 0.95), (4545.5, 0.975), (4547, 0.988),
                  (4548.5, 0.994)]
AZV95_4686_OBS = [1.0, 0.995, 1.003, 0.997, 1.0, 0.993, 0.998, 0.99, 0.993, 0.985,
                  0.982, 0.978, 0.97, 0.958, 0.94, 0.905, 0.86, 0.835, 0.8, 0.782,
                  0.775, 0.795, 0.8, 0.862, 0.915, 0.95, 0.97, 0.98, 0.99, 0.985,
                  1.0, 0.993, 1.008, 1.0, 1.015, 1.005, 1.018, 1.01, 1.015, 1.005]
AZV95_4686_MOD = [(4678.5, 0.999), (4680.5, 0.995), (4682, 0.985), (4683, 0.97), (4683.7, 0.948),
                  (4684.3, 0.905), (4684.9, 0.835), (4685.5, 0.775), (4685.95, 0.749),
                  (4686.5, 0.775), (4687.05, 0.848), (4687.7, 0.918), (4688.4, 0.958),
                  (4689.3, 0.976), (4690.5, 0.986), (4693.05, 0.994)]

STARS = [
    (STAR_TITLES[0], AZV14_XLIM, AZV14_YLIM, AZV14_YTICKS, XTICKS_STD,
     [AZV14_HG_OBS, AZV14_HA_OBS, AZV14_4026_OBS, AZV14_4387_OBS, AZV14_4471_OBS,
      AZV14_4713_OBS, AZV14_4200_OBS, AZV14_4541_OBS, AZV14_4686_OBS],
     [AZV14_HG_MOD, AZV14_HA_MOD, AZV14_4026_MOD, AZV14_4387_MOD, AZV14_4471_MOD,
      AZV14_4713_MOD, AZV14_4200_MOD, AZV14_4541_MOD, AZV14_4686_MOD]),
    (STAR_TITLES[1], AZV15_XLIM, AZV15_YLIM, AZV15_YTICKS, XTICKS_STD,
     [AZV15_HG_OBS, AZV15_HA_OBS, AZV15_4026_OBS, AZV15_4387_OBS, AZV15_4471_OBS,
      AZV15_4713_OBS, AZV15_4200_OBS, AZV15_4541_OBS, AZV15_4686_OBS],
     [AZV15_HG_MOD, AZV15_HA_MOD, AZV15_4026_MOD, AZV15_4387_MOD, AZV15_4471_MOD,
      AZV15_4713_MOD, AZV15_4200_MOD, AZV15_4541_MOD, AZV15_4686_MOD]),
    (STAR_TITLES[2], AZV26_XLIM, AZV26_YLIM, AZV26_YTICKS, XTICKS_STD,
     [AZV26_HG_OBS, AZV26_HA_OBS, AZV26_4026_OBS, AZV26_4387_OBS, AZV26_4471_OBS,
      AZV26_4713_OBS, AZV26_4200_OBS, AZV26_4541_OBS, AZV26_4686_OBS],
     [AZV26_HG_MOD, AZV26_HA_MOD, AZV26_4026_MOD, AZV26_4387_MOD, AZV26_4471_MOD,
      AZV26_4713_MOD, AZV26_4200_MOD, AZV26_4541_MOD, AZV26_4686_MOD]),
    (STAR_TITLES[3], AZV95_XLIM, AZV95_YLIM, AZV95_YTICKS, XTICKS_AZV95,
     [AZV95_HG_OBS, AZV95_HA_OBS, AZV95_4026_OBS, AZV95_4387_OBS, AZV95_4471_OBS,
      AZV95_4713_OBS, AZV95_4200_OBS, AZV95_4541_OBS, AZV95_4686_OBS],
     [AZV95_HG_MOD, AZV95_HA_MOD, AZV95_4026_MOD, AZV95_4387_MOD, AZV95_4471_MOD,
      AZV95_4713_MOD, AZV95_4200_MOD, AZV95_4541_MOD, AZV95_4686_MOD]),
]

# style
sns.set_style("ticks")
plt.rcParams["font.family"] = ["Liberation Sans", "DejaVu Sans"]
plt.rcParams.update({
    "font.size": 8,
    "xtick.direction": "in", "ytick.direction": "in",
    "xtick.top": True, "ytick.right": True,
    "xtick.major.size": 3.5, "ytick.major.size": 3.5,
    "xtick.minor.size": 2, "ytick.minor.size": 2,
    "xtick.major.width": 0.8, "ytick.major.width": 0.8,
    "xtick.minor.width": 0.7, "ytick.minor.width": 0.7,
    "xtick.major.pad": 5, "ytick.major.pad": 5,
    "axes.linewidth": 0.9, "axes.edgecolor": "black",
    "xtick.color": "black", "ytick.color": "black",
})

W, H = 1003, 1068
fig = plt.figure(figsize=(W / 100, H / 100), dpi=100)

# pixel layout of the four boxes
BOX_ORIGINS = [(0, 0), (503, 0), (0, 546), (503, 546)]
BOX_SIZE = (497, 518)
ROW_TOP = [[(40, 159), (210, 329), (380, 498)], [(587, 706), (756.5, 875.7), (926, 1045)]]
COL_LEFT = [[(41.5, 154.5), (204.3, 318.3), (368.3, 481.5)],
            [(544.5, 658.3), (708.3, 821), (871.7, 985.5)]]
TITLE_POS = [(262, 14), (766, 14), (262, 560), (767, 560)]

OBS_COLOR = "black"
MOD_COLOR = "#838383"

for s, (title, xlims, ylims, yticks, xticks, obs_list, mod_list) in enumerate(STARS):
    bx, by = BOX_ORIGINS[s]
    bx += 2
    by += 1
    fig.add_artist(Rectangle((bx / W, 1 - (by + BOX_SIZE[1]) / H), BOX_SIZE[0] / W, BOX_SIZE[1] / H,
                             transform=fig.transFigure, fill=False, edgecolor="#707070", lw=0.9))
    tx, ty = TITLE_POS[s]
    fig.text(tx / W, 1 - ty / H, title, ha="center", va="center", fontsize=12)

    rows = ROW_TOP[s // 2]
    cols = COL_LEFT[s % 2]
    for k in range(9):
        r, c = divmod(k, 3)
        (x0, x1), (y0, y1) = cols[c], rows[r]
        ax = fig.add_axes([x0 / W, 1 - y1 / H, (x1 - x0) / W, (y1 - y0) / H])
        obs = obs_list[k]
        wl = np.linspace(xlims[k][0], xlims[k][1], len(obs))
        sns.lineplot(x=wl, y=obs, ax=ax, color=OBS_COLOR, lw=0.6,
                     estimator=None, sort=False)
        mw = [p[0] for p in mod_list[k]]
        mf = [p[1] for p in mod_list[k]]
        sns.lineplot(x=mw, y=mf, ax=ax, color=MOD_COLOR, lw=1.9,
                     estimator=None, sort=False)
        ax.set_xlim(*xlims[k])
        ax.set_ylim(*ylims[k])
        ax.xaxis.set_major_locator(FixedLocator(xticks[k]))
        ax.yaxis.set_major_locator(FixedLocator(yticks[k]))
        ax.xaxis.set_major_formatter(FormatStrFormatter("%d"))
        ax.yaxis.set_major_formatter(FormatStrFormatter("%.2f"))
        ax.xaxis.set_minor_locator(AutoMinorLocator(3))
        ax.yaxis.set_minor_locator(AutoMinorLocator(2))
        ax.tick_params(which="both", direction="in", top=True, right=True, labelsize=8)
        ax.set_xlabel("")
        ax.set_ylabel("")
        ax.set_title(LINE_TITLES[k], fontsize=8.5, pad=2.5)
        for sp in ax.spines.values():
            sp.set_visible(True)

fig.savefig("out.png", dpi=100)
